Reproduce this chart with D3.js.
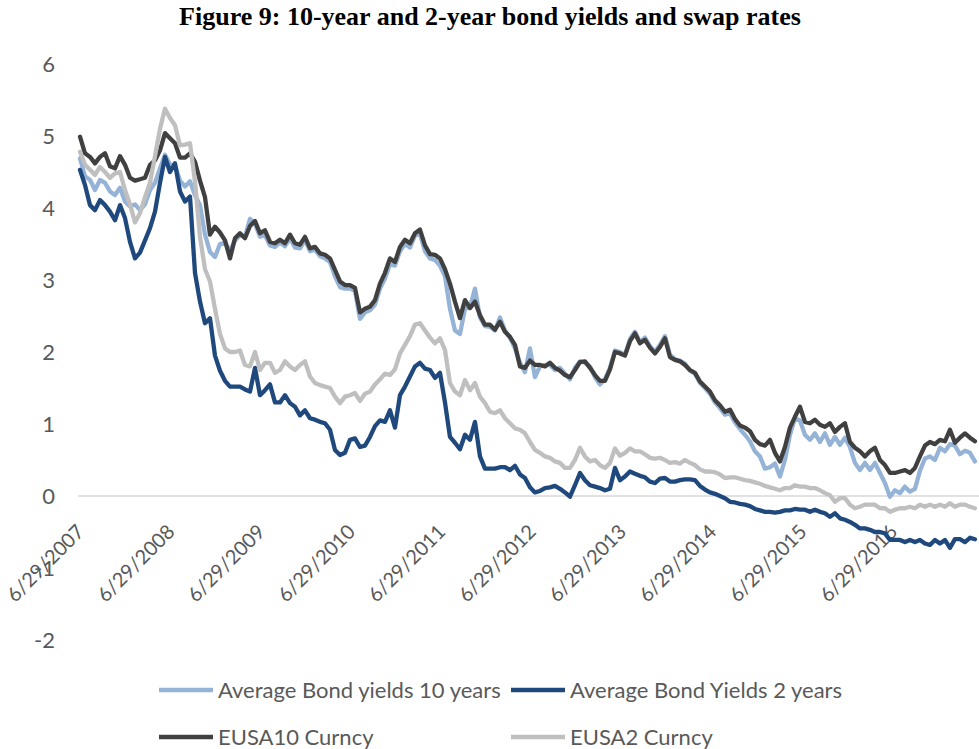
<!DOCTYPE html>
<html>
<head>
<meta charset="utf-8">
<script src="https://cdn.jsdelivr.net/npm/d3@7"></script>
<style>
  body { margin: 0; background: #ffffff; }
  svg { display: block; }
</style>
</head>
<body>
<svg id="chart" width="979" height="749"></svg>
<script>
// ---- Data -------------------------------------------------------------
const chartTitle = "Figure 9: 10-year and 2-year bond yields and swap rates";

// Observations start on 6/29/2007 and are spaced about 20 days apart.
const firstObservation = "6/29/2007";
const observationStepDays = 20.22;

const xTickLabels = ["6/29/2007", "6/29/2008", "6/29/2009", "6/29/2010", "6/29/2011",
                     "6/29/2012", "6/29/2013", "6/29/2014", "6/29/2015", "6/29/2016"];
const yTickValues = [-2, -1, 0, 1, 2, 3, 4, 5, 6];

const seriesNames = ["Average Bond yields 10 years", "Average Bond Yields 2 years",
                     "EUSA10 Curncy", "EUSA2 Curncy"];

const avgBondYields10y = [
  4.69, 4.44, 4.39, 4.25, 4.39, 4.35, 4.23, 4.18, 4.28, 4.09,
  4.02, 4.05, 3.97, 4.05, 4.25, 4.35, 4.55, 4.74, 4.60, 4.60,
  4.38, 4.30, 4.37, 4.18, 4.04, 3.63, 3.39, 3.32, 3.50, 3.52,
  3.40, 3.55, 3.62, 3.60, 3.85, 3.78, 3.60, 3.62, 3.48, 3.46,
  3.52, 3.47, 3.58, 3.45, 3.44, 3.56, 3.40, 3.42, 3.33, 3.30,
  3.25, 3.05, 2.90, 2.88, 2.88, 2.85, 2.46, 2.55, 2.58, 2.66,
  2.88, 3.02, 3.22, 3.20, 3.40, 3.50, 3.45, 3.62, 3.64, 3.40,
  3.30, 3.28, 3.20, 3.05, 2.60, 2.30, 2.25, 2.60, 2.62, 2.88,
  2.48, 2.36, 2.35, 2.30, 2.48, 2.30, 2.20, 2.05, 1.85, 1.72,
  2.05, 1.65, 1.80, 1.82, 1.82, 1.75, 1.78, 1.70, 1.62, 1.78,
  1.87, 1.85, 1.80, 1.65, 1.55, 1.62, 1.78, 2.02, 2.00, 1.96,
  2.18, 2.28, 2.14, 2.20, 2.08, 2.00, 2.10, 2.22, 1.96, 1.90,
  1.88, 1.84, 1.74, 1.70, 1.57, 1.50, 1.42, 1.30, 1.22, 1.13,
  1.15, 1.02, 0.93, 0.85, 0.76, 0.62, 0.55, 0.38, 0.40, 0.45,
  0.27, 0.50, 0.85, 1.08, 1.05, 0.85, 0.78, 0.87, 0.75, 0.87,
  0.71, 0.82, 0.71, 0.81, 0.68, 0.46, 0.36, 0.46, 0.36, 0.46,
  0.32, 0.18, -0.01, 0.08, 0.04, 0.13, 0.06, 0.10, 0.35, 0.52,
  0.55, 0.50, 0.67, 0.62, 0.72, 0.70, 0.58, 0.63, 0.60, 0.48
];

const avgBondYields2y = [
  4.53, 4.32, 4.04, 3.97, 4.11, 4.04, 3.95, 3.83, 4.04, 3.86,
  3.53, 3.30, 3.38, 3.55, 3.72, 3.95, 4.35, 4.71, 4.50, 4.62,
  4.23, 4.09, 4.16, 3.10, 2.70, 2.40, 2.47, 1.95, 1.74, 1.60,
  1.52, 1.52, 1.52, 1.48, 1.45, 1.78, 1.40, 1.47, 1.55, 1.30,
  1.30, 1.40, 1.29, 1.24, 1.12, 1.19, 1.08, 1.06, 1.03, 1.01,
  0.92, 0.64, 0.57, 0.60, 0.78, 0.80, 0.68, 0.70, 0.82, 0.97,
  1.05, 1.03, 1.19, 0.95, 1.40, 1.52, 1.66, 1.80, 1.85, 1.77,
  1.75, 1.64, 1.71, 1.30, 0.82, 0.74, 0.65, 0.85, 0.78, 1.03,
  0.55, 0.38, 0.38, 0.38, 0.40, 0.40, 0.36, 0.42, 0.30, 0.25,
  0.12, 0.05, 0.07, 0.11, 0.12, 0.14, 0.10, 0.05, -0.01, 0.15,
  0.32, 0.22, 0.15, 0.13, 0.11, 0.08, 0.10, 0.39, 0.22, 0.27,
  0.34, 0.31, 0.28, 0.26, 0.20, 0.18, 0.24, 0.25, 0.20, 0.20,
  0.22, 0.23, 0.23, 0.22, 0.14, 0.09, 0.05, 0.03, 0.00, -0.03,
  -0.08, -0.09, -0.11, -0.12, -0.14, -0.18, -0.20, -0.22, -0.22, -0.23,
  -0.22, -0.20, -0.20, -0.18, -0.19, -0.19, -0.22, -0.19, -0.22, -0.24,
  -0.29, -0.24, -0.31, -0.33, -0.36, -0.40, -0.45, -0.45, -0.47, -0.50,
  -0.50, -0.52, -0.61, -0.61, -0.61, -0.64, -0.61, -0.64, -0.61, -0.66,
  -0.68, -0.61, -0.66, -0.61, -0.72, -0.60, -0.60, -0.64, -0.58, -0.60
];

const eusa10Curncy = [
  4.99, 4.76, 4.71, 4.62, 4.71, 4.76, 4.58, 4.55, 4.72, 4.60,
  4.42, 4.38, 4.40, 4.42, 4.60, 4.66, 4.80, 5.04, 4.97, 4.90,
  4.70, 4.70, 4.76, 4.64, 4.38, 4.15, 3.63, 3.74, 3.66, 3.55,
  3.30, 3.58, 3.65, 3.58, 3.75, 3.82, 3.65, 3.69, 3.53, 3.51,
  3.56, 3.51, 3.63, 3.51, 3.49, 3.60, 3.44, 3.46, 3.37, 3.35,
  3.30, 3.14, 2.98, 2.93, 2.93, 2.89, 2.55, 2.60, 2.63, 2.72,
  2.95, 3.10, 3.30, 3.25, 3.46, 3.56, 3.51, 3.65, 3.70, 3.48,
  3.36, 3.35, 3.30, 3.15, 2.95, 2.70, 2.47, 2.72, 2.61, 2.70,
  2.51, 2.38, 2.38, 2.31, 2.42, 2.28, 2.21, 2.10, 1.80, 1.78,
  1.88, 1.82, 1.82, 1.80, 1.85, 1.78, 1.74, 1.68, 1.65, 1.75,
  1.86, 1.87, 1.78, 1.68, 1.60, 1.60, 1.76, 2.00, 1.98, 1.95,
  2.15, 2.26, 2.12, 2.17, 2.06, 1.98, 2.07, 2.19, 1.93, 1.89,
  1.87, 1.82, 1.75, 1.71, 1.59, 1.52, 1.45, 1.33, 1.26, 1.17,
  1.20, 1.07, 0.98, 0.95, 0.90, 0.78, 0.72, 0.70, 0.78, 0.60,
  0.48, 0.68, 0.95, 1.10, 1.24, 1.03, 1.01, 1.06, 0.99, 0.96,
  1.01, 0.89, 0.96, 1.01, 0.75, 0.67, 0.62, 0.55, 0.62, 0.67,
  0.50, 0.43, 0.32, 0.32, 0.34, 0.36, 0.32, 0.39, 0.55, 0.70,
  0.75, 0.72, 0.78, 0.76, 0.92, 0.74, 0.81, 0.87, 0.81, 0.76
];

const eusa2Curncy = [
  4.78, 4.60, 4.53, 4.46, 4.57, 4.50, 4.42, 4.48, 4.50, 4.25,
  4.05, 3.80, 3.93, 4.15, 4.35, 4.72, 5.10, 5.38, 5.25, 5.15,
  4.87, 4.88, 4.90, 4.37, 3.60, 3.15, 2.98, 2.60, 2.25, 2.05,
  2.00, 2.00, 2.02, 1.82, 1.80, 2.00, 1.75, 1.85, 1.85, 1.71,
  1.75, 1.87, 1.80, 1.75, 1.82, 1.87, 1.66, 1.57, 1.54, 1.52,
  1.50, 1.38, 1.29, 1.38, 1.40, 1.43, 1.32, 1.42, 1.45, 1.55,
  1.62, 1.70, 1.68, 1.76, 1.98, 2.10, 2.22, 2.38, 2.40, 2.30,
  2.20, 2.12, 2.19, 2.03, 1.57, 1.45, 1.40, 1.61, 1.47, 1.57,
  1.38, 1.29, 1.17, 1.15, 1.19, 1.08, 1.01, 0.94, 0.92, 0.87,
  0.75, 0.64, 0.60, 0.55, 0.53, 0.48, 0.46, 0.39, 0.39, 0.50,
  0.67, 0.55, 0.48, 0.50, 0.43, 0.39, 0.46, 0.66, 0.56, 0.60,
  0.66, 0.62, 0.62, 0.58, 0.53, 0.52, 0.53, 0.50, 0.46, 0.47,
  0.45, 0.50, 0.46, 0.43, 0.37, 0.34, 0.34, 0.33, 0.30, 0.25,
  0.26, 0.26, 0.24, 0.22, 0.21, 0.19, 0.17, 0.14, 0.12, 0.10,
  0.08, 0.11, 0.11, 0.15, 0.13, 0.13, 0.11, 0.11, 0.08, 0.04,
  0.01, -0.08, -0.03, -0.03, -0.12, -0.17, -0.15, -0.12, -0.12, -0.12,
  -0.17, -0.17, -0.22, -0.19, -0.17, -0.17, -0.15, -0.17, -0.12, -0.15,
  -0.12, -0.15, -0.12, -0.15, -0.10, -0.15, -0.12, -0.12, -0.15, -0.17
];

const seriesColors = ["#95B3D7", "#1F497D", "#404040", "#BFBFBF"];

// ---- Layout -----------------------------------------------------------
const width = 979, height = 749;
const textColor = "#595959";
const textFont = "Lato, 'Open Sans', sans-serif";

const parseDate = d3.timeParse("%m/%d/%Y");
const fmtDate = d3.timeFormat("%-m/%-d/%Y");
const start = parseDate(firstObservation);
const dates = avgBondYields10y.map((_, i) =>
  d3.timeHour.offset(start, Math.round(i * observationStepDays * 24)));

const series = [avgBondYields10y, avgBondYields2y, eusa10Curncy, eusa2Curncy].map((vals, i) => ({
  name: seriesNames[i],
  color: seriesColors[i],
  points: vals.map((v, j) => ({ date: dates[j], value: v }))
}));

const xTicks = xTickLabels.map(parseDate);
const x = d3.scaleTime()
  .domain([xTicks[0], xTicks[xTicks.length - 1]])
  .range([80, 893]);
const y = d3.scaleLinear().domain([-2, 6]).range([640, 64]);

const svg = d3.select("#chart");
svg.append("rect").attr("width", width).attr("height", height).attr("fill", "#ffffff");

// Title
svg.append("text")
  .attr("x", 490).attr("y", 25)
  .attr("text-anchor", "middle")
  .attr("font-family", "'Liberation Serif', 'Times New Roman', serif")
  .attr("font-weight", "bold")
  .attr("font-size", 26)
  .attr("fill", "#000000")
  .text(chartTitle);

// Y axis labels (no axis line, no gridlines)
const yAxis = d3.axisLeft(y).tickValues(yTickValues).tickSize(0).tickPadding(0)
  .tickFormat(d => d < 0 ? "-" + Math.abs(d) : String(d));
const yG = svg.append("g").attr("transform", "translate(55,0)").call(yAxis);
yG.select(".domain").remove();
yG.selectAll(".tick text")
  .attr("x", 0).attr("dy", "0.36em")
  .attr("font-family", textFont).attr("font-size", 22).attr("fill", textColor)
  .attr("text-anchor", "end");

// Horizontal axis line at zero
svg.append("line")
  .attr("x1", 78).attr("x2", width)
  .attr("y1", y(0)).attr("y2", y(0))
  .attr("stroke", "#D9D9D9").attr("stroke-width", 1.5);

// X axis tick labels, rotated 45 degrees, ending at each tick
const xAxis = d3.axisBottom(x).tickValues(xTicks).tickSize(0).tickFormat(fmtDate);
const xG = svg.append("g").attr("transform", `translate(0,${y(0)})`).call(xAxis);
xG.select(".domain").remove();
xG.selectAll(".tick text")
  .attr("x", 0).attr("y", 0).attr("dy", 0)
  .attr("font-family", textFont).attr("font-size", 20).attr("fill", textColor)
  .attr("text-anchor", "end")
  .attr("transform", "translate(5,37) rotate(-45)");

// Series lines
const line = d3.line().x(d => x(d.date)).y(d => y(d.value));
svg.append("g").selectAll("path")
  .data(series)
  .join("path")
  .attr("d", d => line(d.points))
  .attr("fill", "none")
  .attr("stroke", d => d.color)
  .attr("stroke-width", 4.3)
  .attr("stroke-linejoin", "round")
  .attr("stroke-linecap", "round");

// Legend, two rows of two entries
const legendPos = [[159, 690], [511, 690], [159, 737], [511, 737]];
const legend = svg.append("g").selectAll("g")
  .data(series)
  .join("g")
  .attr("transform", (d, i) => `translate(${legendPos[i][0]},${legendPos[i][1]})`);
legend.append("line")
  .attr("x1", 0).attr("x2", 54).attr("y1", 0).attr("y2", 0)
  .attr("stroke", d => d.color).attr("stroke-width", 4.3);
legend.append("text")
  .attr("x", 59).attr("y", 8)
  .attr("font-family", textFont).attr("font-size", 22).attr("fill", textColor)
  .text(d => d.name);
</script>
</body>
</html>
